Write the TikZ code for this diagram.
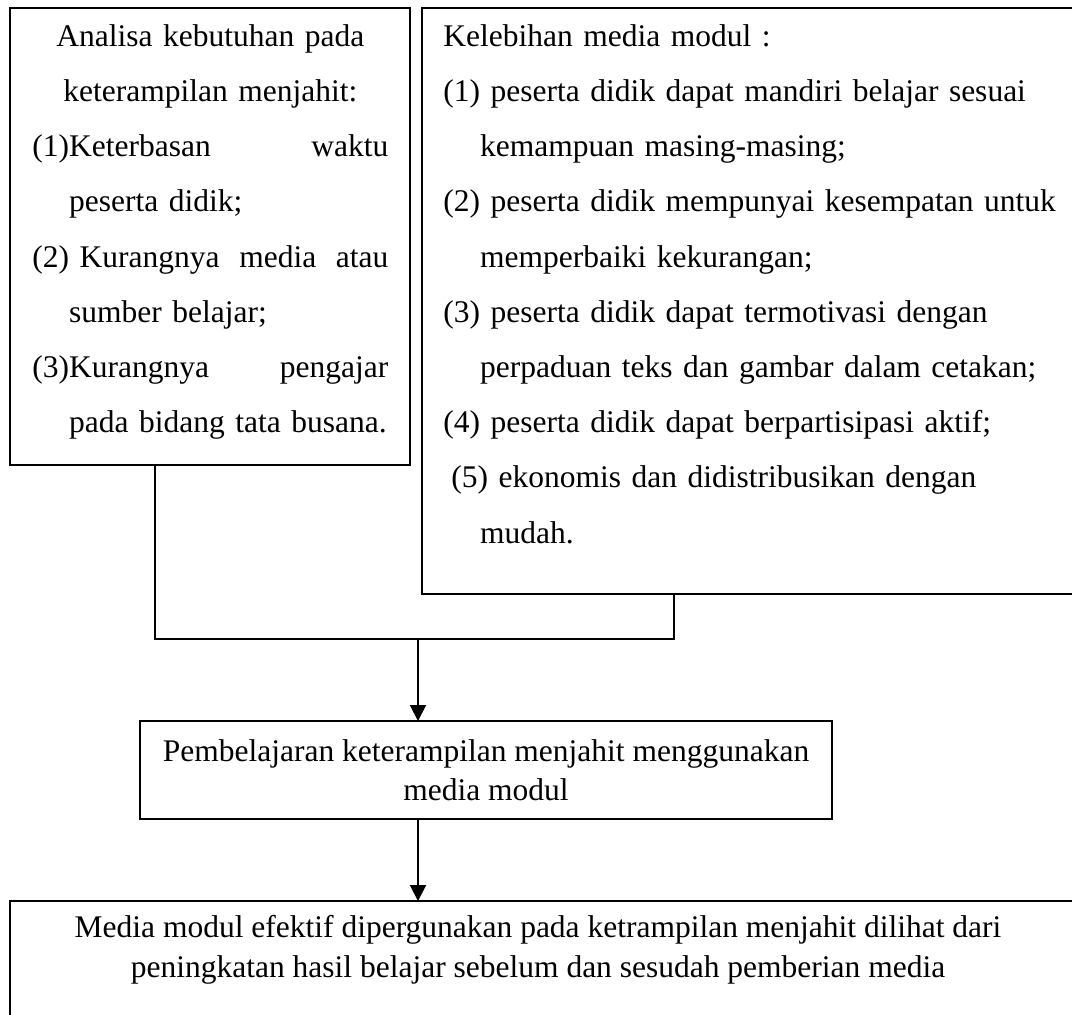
\documentclass[tikz,border=0pt]{standalone}
\usepackage{fontspec}
\setmainfont{Liberation Serif}
\usetikzlibrary{arrows.meta,positioning,calc}
\newcommand{\indentx}{\hphantom{(1)}}

\begin{document}
\begin{tikzpicture}[
  x=0.5pt, y=-0.5pt,
  box/.style={draw, line width=1pt, rectangle, inner sep=0pt, outer sep=0pt, anchor=north west},
  txt/.style={inner sep=0pt, font=\fontsize{15.75}{27.6}\selectfont},
  link/.style={line width=1pt},
  arr/.style={-{Triangle[length=8pt, width=8pt]}, line width=1pt}
]
  \path[use as bounding box, clip] (0,0) rectangle (1072,1014);
  \node[box, minimum width=200pt, minimum height=228.5pt] (lbox) at (10,8) {};
  \node[box, minimum width=339pt, minimum height=293pt] (rbox) at (422,8) {};
  \node[box, minimum width=346pt, minimum height=49pt, anchor=center, align=center,
        font=\fontsize{15.75}{19.5}\selectfont] (mbox) at (486,770)
        {Pembelajaran keterampilan menjahit menggunakan\\media modul};
  \node[box, minimum width=545pt, minimum height=69.5pt] (bbox) at (10,901) {};

  \node[txt, anchor=north west, text width=178pt, align=left] (ltxt) at (32,24) {%
    \makebox[178pt]{Analisa kebutuhan pada}\\
    \makebox[178pt]{keterampilan menjahit:}\\
    (1)Keterbasan\hfill waktu\\
    \indentx peserta didik;\\
    (2) Kurangnya\hfill media\hfill atau\\
    \indentx sumber belajar;\\
    (3)Kurangnya\hfill pengajar\\
    \indentx\mbox{pada bidang tata busana.}};
  \node[txt, anchor=north west, text width=320pt, align=left] (rtxt) at (443,24) {%
    Kelebihan media modul :\\
    (1) peserta didik dapat mandiri belajar sesuai\\
    \indentx kemampuan masing-masing;\\
    (2) peserta didik mempunyai kesempatan untuk\\
    \indentx memperbaiki kekurangan;\\
    (3) peserta didik dapat termotivasi dengan\\
    \indentx perpaduan teks dan gambar dalam cetakan;\\
    (4) peserta didik dapat berpartisipasi aktif;\\
    \hspace*{4pt}(5) ekonomis dan didistribusikan dengan\\
    \indentx mudah.};
  \node[txt, anchor=north, align=center, font=\fontsize{15.75}{20}\selectfont] (btxt) at (538,915)
    {Media modul efektif dipergunakan pada ketrampilan menjahit dilihat dari\\
     peningkatan hasil belajar sebelum dan sesudah pemberian media};

  \coordinate (joinL) at (155,639);
  \coordinate (joinR) at (674,639);
  \coordinate (join) at (418,639);
  \draw[link] (lbox.south -| joinL) -- (joinL) -- (joinR) -- (rbox.south -| joinR);
  \draw[arr] (join) -- (mbox.north -| join);
  \draw[arr] (mbox.south -| join) -- (bbox.north -| join);
\end{tikzpicture}
\end{document}
